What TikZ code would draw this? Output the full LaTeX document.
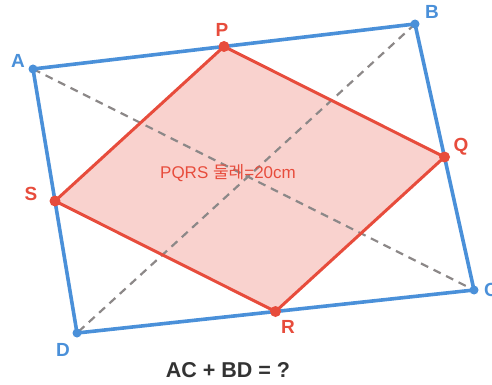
\documentclass[tikz,border=0pt]{standalone}
\usepackage{fontspec}
\setmainfont{Liberation Sans}
\newfontfamily\cjk{Noto Sans CJK KR}
\usepackage{tikz}
\usetikzlibrary{calc}

\definecolor{edgeblue}{HTML}{4A90D9}
\definecolor{midred}{HTML}{E74C3C}
\definecolor{diaggray}{HTML}{8C8888}
\definecolor{titlegray}{HTML}{333333}

\begin{document}
\begin{tikzpicture}[
        x=1pt, y=-1pt,
        outer/.style={draw=edgeblue, line width=3.6pt, line join=round},
        inner/.style={draw=midred, line width=3pt, line join=round},
        diag/.style={draw=diaggray, line width=2.2pt, dash pattern=on 8pt off 6pt},
        bdot/.style={circle, fill=edgeblue, inner sep=0pt, minimum size=9pt},
        rdot/.style={circle, fill=midred, inner sep=0pt, minimum size=11pt},
        blbl/.style={text=edgeblue, font=\fontsize{19}{19}\selectfont\bfseries},
        rlbl/.style={text=midred, font=\fontsize{19}{19}\selectfont\bfseries}
    ]
        \useasboundingbox (0,0) rectangle (492,385);

        % corners of ABCD
        \coordinate (A) at (33,69);
        \coordinate (B) at (415,24);
        \coordinate (C) at (474,290);
        \coordinate (D) at (77,333);

        % midpoints
        \coordinate (P) at ($(A)!0.5!(B)$);
        \coordinate (Q) at ($(B)!0.5!(C)$);
        \coordinate (R) at ($(C)!0.5!(D)$);
        \coordinate (S) at ($(D)!0.5!(A)$);

        % PQRS fill
        \fill[midred, opacity=0.25] (P) -- (Q) -- (R) -- (S) -- cycle;

        % diagonals
        \draw[diag] (A) -- (C);
        \draw[diag] (B) -- (D);

        % outlines
        \draw[outer] (A) -- (B) -- (C) -- (D) -- cycle;
        \draw[inner] (P) -- (Q) -- (R) -- (S) -- cycle;

        % points
        \foreach \c in {A,B,C,D} \node[bdot] (dot\c) at (\c) {};
        \foreach \c in {P,Q,R,S} \node[rdot] (dot\c) at (\c) {};

        % labels
        \node[blbl] (labA) at (18,61) {A};
        \node[blbl] (labB) at (432,12) {B};
        \node[blbl] (labC) at (491,290) {C};
        \node[blbl] (labD) at (63,350) {D};
        \node[rlbl] (labP) at (222,30) {P};
        \node[rlbl] (labQ) at (461,147) {Q};
        \node[rlbl] (labR) at (288,327) {R};
        \node[rlbl] (labS) at (31,194) {S};

        \node[text=midred, font=\fontsize{17}{17}\selectfont] (perim) at (228,173) {PQRS {\cjk 둘레}=20cm};

        \node[text=titlegray, font=\fontsize{21.5}{21.5}\selectfont\bfseries] (ask) at (228,370) {AC + BD = ?};
    \end{tikzpicture}
\end{document}
